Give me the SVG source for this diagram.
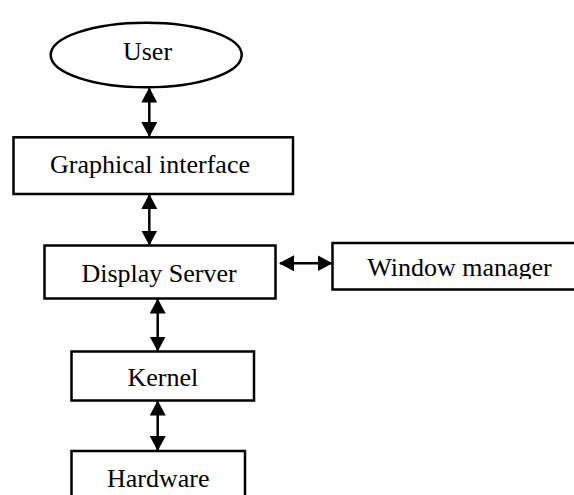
<svg xmlns="http://www.w3.org/2000/svg" width="574" height="495" viewBox="0 0 574 495">
  <style>
    .box { fill: #fff; stroke: #000; stroke-width: 2.5; }
    .lbl { font-family: "Liberation Serif", "Times New Roman", serif; font-size: 26px; fill: #000; text-anchor: middle; }
    .conn { stroke: #000; stroke-width: 2.5; fill: none; marker-start: url(#ah); marker-end: url(#ah); }
  </style>
  <defs>
    <marker id="ah" markerUnits="userSpaceOnUse" markerWidth="15" markerHeight="16" viewBox="0 0 15 16" refX="14" refY="8" orient="auto-start-reverse">
      <path d="M0,0 L15,8 L0,16 z" fill="#000"/>
    </marker>
    <clipPath id="wmclip"><rect x="333" y="244" width="300" height="35"/></clipPath>
  </defs>
  <rect width="574" height="495" fill="#fff"/>
  <g id="connectors">
    <line class="conn" x1="149.3" y1="88.5" x2="149.3" y2="136"/>
    <line class="conn" x1="149.3" y1="195" x2="149.3" y2="244.5"/>
    <line class="conn" x1="157.7" y1="299.5" x2="157.7" y2="350.5"/>
    <line class="conn" x1="157.7" y1="401.5" x2="157.7" y2="450"/>
    <line class="conn" x1="280" y1="263.3" x2="331.5" y2="263.3"/>
  </g>
  <g id="user">
    <ellipse class="box" cx="146.2" cy="55" rx="95.5" ry="32.3"/>
    <text class="lbl" x="147.5" y="60">User</text>
  </g>
  <g id="graphical-interface">
    <rect class="box" x="13.5" y="137.3" width="279.5" height="56.7"/>
    <text class="lbl" x="150" y="173.3">Graphical interface</text>
  </g>
  <g id="display-server">
    <rect class="box" x="44.5" y="245.5" width="231" height="53"/>
    <text class="lbl" x="159" y="281.5">Display Server</text>
  </g>
  <g id="window-manager">
    <rect class="box" x="332.5" y="243" width="260" height="46.5"/>
    <text class="lbl" x="459.5" y="275.5" clip-path="url(#wmclip)">Window manager</text>
  </g>
  <g id="kernel">
    <rect class="box" x="71.5" y="351.5" width="182.5" height="49"/>
    <text class="lbl" x="162.8" y="386">Kernel</text>
  </g>
  <g id="hardware">
    <rect class="box" x="71.5" y="451" width="173.5" height="60"/>
    <text class="lbl" x="158.3" y="486.7">Hardware</text>
  </g>
</svg>
